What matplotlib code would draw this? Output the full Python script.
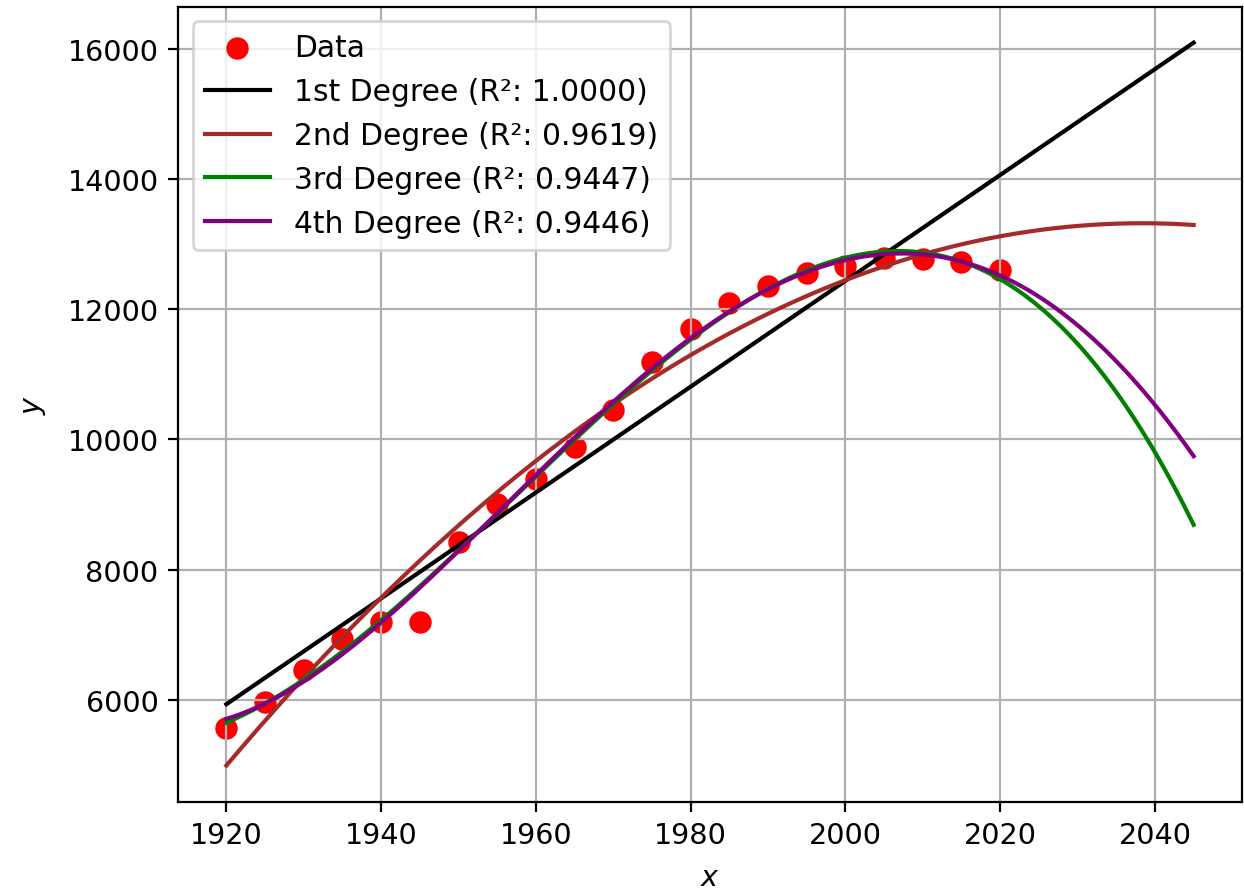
import numpy as np
import matplotlib
matplotlib.use("Agg")
import matplotlib.pyplot as plt

# Data
years = [1920, 1925, 1930, 1935, 1940, 1945, 1950, 1955, 1960, 1965, 1970,
         1975, 1980, 1985, 1990, 1995, 2000, 2005, 2010, 2015, 2020]
values = [5569, 5974, 6451, 6938, 7195, 7195, 8426, 9015, 9395, 9882, 10454,
          11195, 11703, 12097, 12358, 12554, 12666, 12785, 12769, 12718, 12600]

degrees = [1, 2, 3, 4]
names = ["1st", "2nd", "3rd", "4th"]
r2_scores = [1.0000, 0.9619, 0.9447, 0.9446]
colors = ["black", "brown", "green", "purple"]
x_end = 2045

plt.rcParams["font.size"] = 10.3

fig = plt.figure(figsize=(1244 / 200, 895 / 200), dpi=200)
ax = fig.add_axes([178 / 1244, (895 - 802.7) / 895,
                   (1242 - 178) / 1244, (802.7 - 7.5) / 895])

ax.scatter(years, values, color="red", s=50, label="Data")

# polynomial fits of the data, drawn out to 2045
x_fit = np.linspace(years[0], x_end, 300)
for deg, name, r2, c in zip(degrees, names, r2_scores, colors):
    poly = np.polynomial.Polynomial.fit(years, values, deg)
    ax.plot(x_fit, poly(x_fit), color=c, label=f"{name} Degree (R²: {r2:.4f})")

ax.set_xlabel("$x$", labelpad=5)
ax.set_ylabel("$y$", labelpad=7)
ax.grid(True)
ax.legend(loc="upper left", fontsize=10.7, handlelength=2.2)

fig.savefig("out.png", dpi=200)
